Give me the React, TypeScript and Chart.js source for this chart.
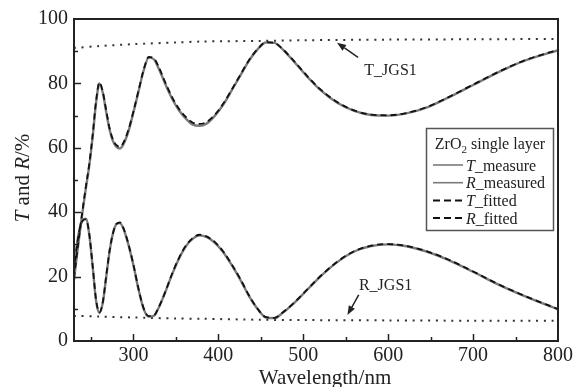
import React, { useEffect, useRef } from "react";
import { Chart, registerables } from "chart.js";

Chart.register(...registerables);

const wavelengths = [230, 232, 236, 240, 244, 248, 252, 256, 260, 264, 268, 272, 276, 280, 284, 288, 294, 300, 306, 312, 318, 324, 330, 338, 346, 354, 362, 370, 378, 386, 396, 406, 416, 426, 436, 446, 456, 466, 476, 490, 505, 520, 540, 560, 580, 600, 620, 645, 670, 700, 730, 760, 800];

const tMeasured = [19, 23.5, 32, 40, 47.5, 54.5, 63.5, 74, 80, 77, 71, 65.5, 62, 60.3, 59.8, 61, 65, 71, 77.5, 84, 88, 87.5, 84.5, 79.5, 75, 71.5, 69, 67.2, 66.8, 67.5, 70, 73.5, 78, 82.5, 87, 90.5, 92.7, 92.6, 90.5, 86.5, 82, 78, 74, 71.5, 70.2, 70, 70.6, 72.5, 75.5, 79.5, 83.5, 87, 90.3];

const rMeasured = [22, 27, 34, 37.5, 38, 33, 23, 12.5, 8.7, 12, 20, 28, 33.5, 36.3, 36.6, 35, 30, 23.5, 16, 10, 7.6, 7.8, 10.5, 15.5, 21, 25.8, 29.5, 31.8, 32.8, 32.3, 30.5, 27.5, 23.5, 19, 14, 10, 7.3, 7.1, 8.8, 12, 16, 20, 24.5, 27.8, 29.5, 30, 29.5, 27.8, 25.3, 21.5, 17.5, 14, 9.8];

const tFitted = [19.5, 24, 32.5, 40.5, 48, 55, 64, 74.5, 80.3, 77.3, 71.5, 66, 62.5, 60.8, 60.3, 61.5, 65.5, 71.3, 77.8, 84.2, 88.2, 87.8, 85, 80, 75.5, 72, 69.5, 67.8, 67.4, 68, 70.3, 73.8, 78.2, 82.7, 87.2, 90.6, 92.8, 92.6, 90.6, 86.7, 82.2, 78.2, 74.2, 71.6, 70.3, 70.1, 70.7, 72.6, 75.6, 79.6, 83.6, 87.1, 90.4];

const rFitted = [21.5, 26.5, 33.8, 37.3, 37.8, 33.2, 23.3, 12.8, 8.9, 12.2, 20.3, 28.2, 33.6, 36.4, 36.8, 35.2, 30.2, 23.7, 16.2, 10.2, 7.7, 7.9, 10.6, 15.6, 21.2, 26, 29.7, 32, 33, 32.5, 30.7, 27.7, 23.7, 19.2, 14.2, 10.1, 7.4, 7.2, 8.9, 12.1, 16.1, 20.1, 24.6, 27.9, 29.6, 30.1, 29.6, 27.9, 25.4, 21.6, 17.6, 14.1, 9.9];

const substrateWavelengths = [230, 260, 300, 350, 380, 450, 500, 600, 700, 800];
const tSubstrate = [91.0, 91.6, 92.2, 92.7, 93.0, 93.2, 93.4, 93.6, 93.7, 93.8];
const rSubstrate = [7.8, 7.6, 7.3, 7.0, 6.9, 6.6, 6.5, 6.4, 6.3, 6.3];

const xTicks = [300, 400, 500, 600, 700, 800];
const yTicks = [0, 20, 40, 60, 80, 100];

const legendTitle = "single layer";
const legendEntries = [
  { sym: "T", rest: "_measure", dashed: false },
  { sym: "R", rest: "_measured", dashed: false },
  { sym: "T", rest: "_fitted", dashed: true },
  { sym: "R", rest: "_fitted", dashed: true },
];

const tArrow = { from: [564.5, 88.1], to: [539.8, 92.6] };
const rArrow = { from: [565.3, 14.3], to: [552, 8.1] };
const tLabel = { text: "T_JGS1", at: [602.8, 83.9] };
const rLabel = { text: "R_JGS1", at: [597, 17.1] };

const SERIF = "'Liberation Serif', 'Times New Roman', serif";
const MEASURED_COLOR = "#7a7a7a";
const FITTED_COLOR = "#111111";
const FITTED_DASH = [6, 4];

type Seg = { t: string; italic?: boolean; sub?: boolean };

function drawRich(ctx: CanvasRenderingContext2D, segs: Seg[], x: number, y: number, size: number, align: "left" | "center") {
  const fontOf = (s: Seg) => `${s.italic ? "italic " : ""}${s.sub ? Math.round(size * 0.7) : size}px ${SERIF}`;
  let total = 0;
  for (const s of segs) {
    ctx.font = fontOf(s);
    total += ctx.measureText(s.t).width;
  }
  let cx = align === "center" ? x - total / 2 : x;
  ctx.textBaseline = "alphabetic";
  ctx.textAlign = "left";
  for (const s of segs) {
    ctx.font = fontOf(s);
    ctx.fillText(s.t, cx, s.sub ? y + size * 0.22 : y);
    cx += ctx.measureText(s.t).width;
  }
}

function arrow(ctx: CanvasRenderingContext2D, x1: number, y1: number, x2: number, y2: number) {
  const ang = Math.atan2(y2 - y1, x2 - x1);
  const head = 9;
  const hw = 3.5;
  const bx = x2 - head * Math.cos(ang);
  const by = y2 - head * Math.sin(ang);
  ctx.beginPath();
  ctx.moveTo(x1, y1);
  ctx.lineTo(bx, by);
  ctx.stroke();
  ctx.beginPath();
  ctx.moveTo(x2, y2);
  ctx.lineTo(bx + hw * Math.sin(ang), by - hw * Math.cos(ang));
  ctx.lineTo(bx - hw * Math.sin(ang), by + hw * Math.cos(ang));
  ctx.closePath();
  ctx.fill();
}

const decorPlugin = {
  id: "decor",
  afterDraw(chart: any) {
    const { ctx, chartArea: a, scales } = chart;
    const xs = scales.x;
    const ys = scales.y;
    ctx.save();
    ctx.strokeStyle = "#222";
    ctx.fillStyle = "#222";
    // frame
    ctx.lineWidth = 2;
    ctx.strokeRect(a.left, a.top, a.right - a.left, a.bottom - a.top);
    // inward ticks
    ctx.lineWidth = 1.5;
    for (let v = 250; v < 800; v += 50) {
      const px = Math.round(xs.getPixelForValue(v)) + 0.5;
      const len = v % 100 === 0 ? 7 : 4;
      ctx.beginPath();
      ctx.moveTo(px, a.bottom);
      ctx.lineTo(px, a.bottom - len);
      ctx.stroke();
    }
    for (let v = 10; v < 100; v += 10) {
      const py = Math.round(ys.getPixelForValue(v)) + 0.5;
      const len = v % 20 === 0 ? 7 : 4;
      ctx.beginPath();
      ctx.moveTo(a.left, py);
      ctx.lineTo(a.left + len, py);
      ctx.stroke();
    }
    // axis titles
    ctx.fillStyle = "#222";
    drawRich(ctx, [{ t: "Wavelength/nm" }], 325, 384, 21, "center");
    ctx.save();
    ctx.translate(29, 178);
    ctx.rotate(-Math.PI / 2);
    drawRich(ctx, [{ t: "T", italic: true }, { t: " and " }, { t: "R", italic: true }, { t: "/%" }], 0, 0, 21, "center");
    ctx.restore();

    // annotations
    ctx.lineWidth = 1.5;
    arrow(ctx, xs.getPixelForValue(tArrow.from[0]), ys.getPixelForValue(tArrow.from[1]), xs.getPixelForValue(tArrow.to[0]), ys.getPixelForValue(tArrow.to[1]));
    arrow(ctx, xs.getPixelForValue(rArrow.from[0]), ys.getPixelForValue(rArrow.from[1]), xs.getPixelForValue(rArrow.to[0]), ys.getPixelForValue(rArrow.to[1]));
    ctx.font = `16px ${SERIF}`;
    ctx.textAlign = "center";
    ctx.textBaseline = "middle";
    ctx.fillText(tLabel.text, xs.getPixelForValue(tLabel.at[0]), ys.getPixelForValue(tLabel.at[1]));
    ctx.fillText(rLabel.text, xs.getPixelForValue(rLabel.at[0]), ys.getPixelForValue(rLabel.at[1]));

    // legend
    const lx = 426.5, ly = 128.5, lw = 127, lh = 102;
    ctx.fillStyle = "#ffffff";
    ctx.fillRect(lx, ly, lw, lh);
    ctx.strokeStyle = "#555";
    ctx.lineWidth = 1.5;
    ctx.strokeRect(lx, ly, lw, lh);
    ctx.fillStyle = "#222";
    drawRich(ctx, [{ t: "ZrO" }, { t: "2", sub: true }, { t: " " + legendTitle }], lx + lw / 2, 149, 16, "center");
    legendEntries.forEach((e, i) => {
      const cy = 165 + i * 17.7;
      ctx.beginPath();
      if (e.dashed) {
        ctx.strokeStyle = FITTED_COLOR;
        ctx.setLineDash([7, 4]);
        ctx.lineWidth = 2;
      } else {
        ctx.strokeStyle = MEASURED_COLOR;
        ctx.setLineDash([]);
        ctx.lineWidth = 1.6;
      }
      ctx.moveTo(433, cy);
      ctx.lineTo(463, cy);
      ctx.stroke();
      ctx.setLineDash([]);
      ctx.fillStyle = "#222";
      drawRich(ctx, [{ t: e.sym, italic: true }, { t: e.rest }], 466, cy + 5.5, 16, "left");
    });
    ctx.restore();
  },
};

export default function App() {
  const ref = useRef<HTMLCanvasElement | null>(null);
  useEffect(() => {
    document.body.style.margin = "0";
    const canvas = ref.current;
    if (!canvas) return;
    const pts = (ys: number[], xsArr: number[] = wavelengths) => xsArr.map((x, i) => ({ x, y: ys[i] }));
    const chart = new Chart(canvas, {
      type: "line",
      data: {
        datasets: [
          { label: "T_JGS1", data: pts(tSubstrate, substrateWavelengths), borderColor: "#333", borderWidth: 2, borderDash: [2, 5.7], pointRadius: 0, tension: 0.3, order: 3 },
          { label: "R_JGS1", data: pts(rSubstrate, substrateWavelengths), borderColor: "#333", borderWidth: 2, borderDash: [2, 5.7], pointRadius: 0, tension: 0.3, order: 3 },
          { label: "T_measure", data: pts(tMeasured), borderColor: MEASURED_COLOR, borderWidth: 2.4, pointRadius: 0, cubicInterpolationMode: "monotone", order: 2 },
          { label: "R_measured", data: pts(rMeasured), borderColor: MEASURED_COLOR, borderWidth: 2.4, pointRadius: 0, cubicInterpolationMode: "monotone", order: 2 },
          { label: "T_fitted", data: pts(tFitted), borderColor: FITTED_COLOR, borderWidth: 1.8, borderDash: FITTED_DASH, pointRadius: 0, cubicInterpolationMode: "monotone", order: 1 },
          { label: "R_fitted", data: pts(rFitted), borderColor: FITTED_COLOR, borderWidth: 1.8, borderDash: FITTED_DASH, pointRadius: 0, cubicInterpolationMode: "monotone", order: 1 },
        ],
      } as any,
      options: {
        animation: false,
        responsive: false,
        devicePixelRatio: 1,
        layout: { padding: { left: 0, top: 19, right: 16, bottom: 0 } },
        plugins: { legend: { display: false }, tooltip: { enabled: false }, title: { display: false } },
        scales: {
          x: {
            type: "linear",
            min: 230,
            max: 800,
            grid: { display: false, drawTicks: false },
            border: { display: false },
            afterBuildTicks: (s: any) => { s.ticks = xTicks.map((v) => ({ value: v })); },
            afterFit: (s: any) => { s.height = 46; },
            ticks: { color: "#222", font: { family: SERIF, size: 20 }, padding: 3, maxRotation: 0, autoSkip: false },
          },
          y: {
            type: "linear",
            min: 0,
            max: 100,
            grid: { display: false, drawTicks: false },
            border: { display: false },
            afterBuildTicks: (s: any) => { s.ticks = yTicks.map((v) => ({ value: v })); },
            afterFit: (s: any) => { s.width = 74; },
            ticks: { color: "#222", font: { family: SERIF, size: 20 }, padding: 6 },
          },
        },
      } as any,
      plugins: [decorPlugin],
    });
    return () => chart.destroy();
  }, []);
  return <canvas ref={ref} width={576} height={387} style={{ display: "block", width: 576, height: 387 }} />;
}
